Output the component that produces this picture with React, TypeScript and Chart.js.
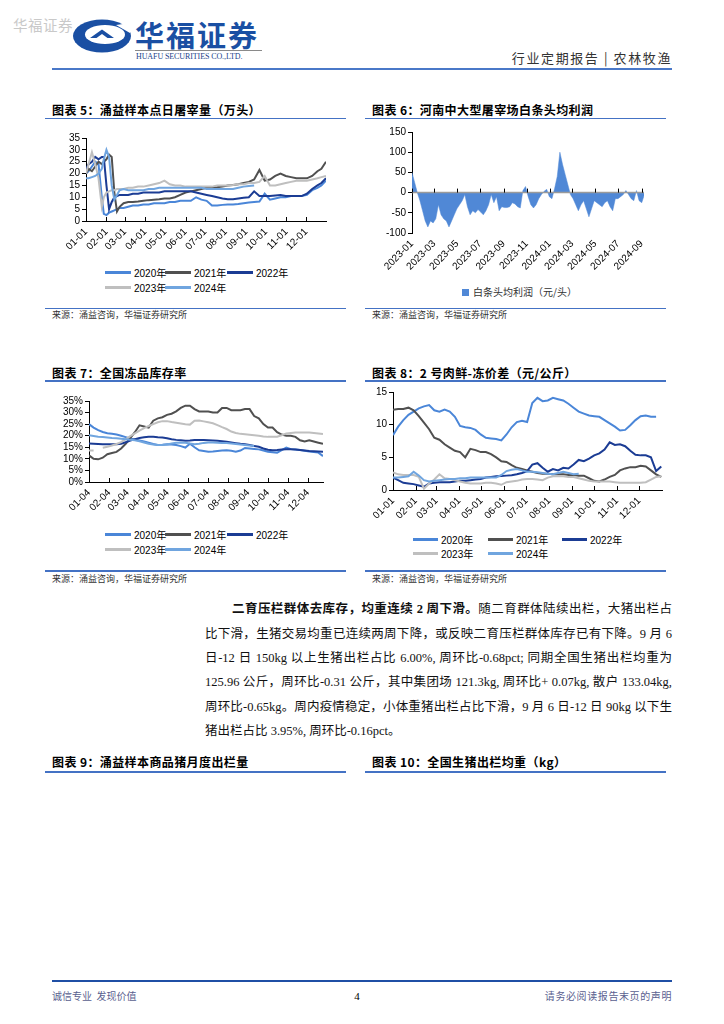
import React, { useEffect, useRef } from 'react';
import { Chart, registerables } from 'chart.js';

Chart.register(...registerables);
Chart.defaults.font.family = '"Liberation Sans", Arial, sans-serif';
Chart.defaults.font.size = 10;
Chart.defaults.color = '#000';

// ---------- colours ----------
const C2020 = '#4A86D8';
const C2021 = '#505050';
const C2022 = '#1B3C94';
const C2023 = '#BFBFBF';
const C2024 = '#70A5DF';
const FILL6 = '#5088D6';

const YEARS = ['2020年', '2021年', '2022年', '2023年', '2024年'];

// ---------- Chart 5: daily slaughter (万头) ----------
const MONTH_START_DOY = [1, 32, 60, 91, 121, 152, 182, 213, 244, 274, 305, 335];
const MONTH_LABELS_01 = ['01-01', '02-01', '03-01', '04-01', '05-01', '06-01', '07-01', '08-01', '09-01', '10-01', '11-01', '12-01'];
const Y5_TICKS = [0, 5, 10, 15, 20, 25, 30, 35];
const DAYS5 = [1, 5, 10, 15, 20, 25, 28, 32, 36, 40, 44, 48, 52, 58, 65, 72, 80, 88, 96, 104, 112, 120, 128, 136, 144, 152, 160, 168, 176, 184, 192, 200, 208, 216, 224, 232, 240, 248, 256, 264, 272, 280, 288, 296, 304, 312, 320, 328, 336, 344, 352, 358, 365];
const S5_2020 = [20, 21, 23, 25, 24, 10, 3, 2.5, 3.5, 4, 4.5, 5, 5.5, 5.5, 6, 6.5, 6.5, 7, 7, 7.5, 7.5, 7.5, 8, 8, 8.5, 8.5, 8.5, 10, 9, 8.5, 6.5, 6.5, 6.8, 7, 7, 7.2, 7.5, 7.8, 8, 8.2, 11.5, 9, 9.5, 10, 10, 10.5, 10.5, 10.5, 11, 13, 14, 15, 17];
const S5_2021 = [20, 22, 21, 23, 25, 24, 25, 26, 28, 27, 12, 4, 6, 7.5, 8, 8, 8.2, 8.5, 8.8, 9, 9.2, 9.5, 9.5, 10, 11, 12, 12.5, 13, 13.5, 14, 14, 14.2, 14.5, 15, 15.2, 15.5, 16, 16.5, 17.5, 21.5, 17, 17.5, 19, 20, 19, 18.5, 18, 18, 18, 19, 21, 22, 25];
const S5_2022 = [22, 24, 25, 27, 26, 27, 27, 15, 5, 8, 10, 10.5, 11, 11, 11, 11.5, 11.5, 12, 12, 12, 12, 12.5, 12.5, 12.5, 12.5, 12.5, 12.5, 12, 11.5, 11, 10.5, 10, 9.5, 9.2, 9.2, 9.5, 9.8, 10, 12.5, 10.5, 10.5, 10.5, 10.8, 11, 10.5, 10.5, 10.5, 10.5, 11.5, 13.5, 15, 16, 18];
const S5_2023 = [20, 24, 29, 24, 18, 6, 10, 12, 12.5, 13, 13, 13.5, 13.5, 13.5, 14, 14, 14.5, 14.5, 15, 15.5, 16, 17, 15.5, 15, 15, 14.5, 14.5, 14.5, 14.5, 14.5, 14.5, 15, 15, 15, 15.2, 15.5, 15.5, 16, 16, 16.5, 19, 15, 15, 15.5, 16, 16.5, 17, 17, 17, 17.5, 18, 18.5, 19];
const S5_2024 = [18, 18, 18.5, 19, 20, 22, 26, 30, 27, 15, 9, 11, 13, 13.5, 13, 13, 13, 13, 13.5, 13.5, 14, 14, 14, 14, 14, 14, 14, 14, 14, 13.5, 13.5, 13.5, 13.5, 13.5, 13.5, 14, 14.5, 14.8, 15, null, null, null, null, null, null, null, null, null, null, null, null, null, null];

// ---------- Chart 6: Henan slaughterhouse profit (元/头), weekly from 2023-01-01 ----------
const TICKS6 = [0, 59, 120, 181, 243, 304, 365, 425, 486, 547, 609];
const LABELS6 = ['2023-01', '2023-03', '2023-05', '2023-07', '2023-09', '2023-11', '2024-01', '2024-03', '2024-05', '2024-07', '2024-09'];
const Y6_TICKS = [-100, -50, 0, 50, 100, 150];
const PROFIT6 = [50, 25, 0, -20, -45, -70, -85, -70, -75, -65, -30, -55, -65, -70, -85, -70, -55, -40, -30, -20, -5, -35, -55, -45, -50, -42, -48, -55, -45, -30, -5, -25, -10, -45, -35, -37, -37, -35, -25, -28, -35, -38, 5, 15, -10, -30, -38, -30, -15, -5, 3, 8, -10, -15, 10, 40, 100, 70, 45, 20, -5, -15, -30, -45, -30, -20, -40, -60, -40, -20, -25, -30, -35, -25, -20, -35, -45, -15, -15, -10, -5, 5, -5, -15, -20, 5, -20, -25, -5];

// ---------- Chart 7: frozen stock rate (%), weekly from 01-04 ----------
const TICKS7 = [0, 31, 59, 90, 120, 151, 181, 212, 243, 273, 304, 334];
const LABELS7 = ['01-04', '02-04', '03-04', '04-04', '05-04', '06-04', '07-04', '08-04', '09-04', '10-04', '11-04', '12-04'];
const Y7_TICKS = [0, 5, 10, 15, 20, 25, 30, 35];
const S7_2020 = [25, 23.5, 22.4, 21.6, 21.1, 20.8, 20.5, 20, 19.4, 18.8, 18.3, 17.9, 17.5, 17, 16.4, 16, 16.1, 16.3, 16.2, 16, 15.5, 14.9, 16.5, 15, 13.7, 13.4, 13.1, 13.2, 13.4, 13.6, 13.7, 13.5, 13.1, 13.6, 14.7, 14.5, 14.3, 14.1, 13.6, 13.1, 12.9, 12.7, 13.8, 14.9, 14.2, 14, 13.8, 13.5, 13.2, 13, 12.7, 11.2];
const S7_2021 = [11.5, 10, 9.8, 10.5, 12, 12.5, 13, 14.5, 16.5, 19, 21.5, 24.5, 24, 23.5, 26.5, 27.5, 28, 29, 29.5, 30.5, 32, 33, 33, 31.5, 30.5, 30.5, 30.5, 30, 30, 32, 32, 31, 31, 31, 31.5, 31.5, 28.5, 27.5, 25, 23.5, 23.5, 21.5, 20.5, 20, 20, 19.5, 18, 17.5, 18, 17.5, 17, 16.5];
const S7_2022 = [16.6, 16.5, 16.4, 16.3, 16.3, 16.3, 16.3, 16.5, 17.2, 17.9, 18.5, 19, 19.3, 19.5, 19.5, 19.3, 19.2, 18.9, 18.5, 18.2, 18, 17.8, 17.9, 18.1, 18.1, 18.1, 18, 17.9, 17.8, 17.6, 17.4, 17.1, 16.8, 16.5, 16.3, 16, 15.6, 15.2, 14.5, 13.9, 13.7, 13.8, 14, 14.1, 14.1, 14, 13.8, 13.6, 13.4, 13.3, 13.2, 13.1];
const S7_2023 = [13.6, 13.6, null, 14.8, 15.2, 15.8, 16.4, 17.2, 18.5, 19.8, 21, 22.2, 23.3, 24.2, 25, 25.8, 26.3, 26.3, 25.9, 25.6, 25.3, 25, 24.8, 26.5, 26.6, 26.2, 25.8, 25.4, 24.6, 23.7, 22.9, 21.8, 21.2, 20.8, 20.6, 20.4, 20.2, 20, 19.7, 19.5, 19.5, 19.6, 20.2, 21, 21.2, 21.4, 21.4, 21.4, 21.4, 21.2, 21, 20.7];
const S7_2024 = [20.2, 19.9, 19.6, 19.4, 19.2, 19, 18.9, 18.7, 18.5, 18.3, 18, 17.6, 17.1, 16.5, 16.2, 16, 16, 16.2, 16.6, 17, 17.1, 17, 16.6, 16.3, 16.5, 16.9, 17.1, 17.1, 17, 16.9, 16.8, 16.6, 16.4, 16.2, 16, 15.8, 15.6, null, null, null, null, null, null, null, null, null, null, null, null, null, null, null];

// ---------- Chart 8: fresh-frozen price spread (元/公斤), weekly from 01-01 ----------
const TICKS8 = [0, 31, 59, 90, 120, 151, 181, 212, 243, 273, 304, 334];
const Y8_TICKS = [0, 5, 10, 15];
const S8_2020 = [8.4, 9.7, 10.7, 11.5, 12, 12.5, 12.8, 13, 12.2, 12, 12.3, 12, 11.2, 9.8, 9.6, 9.5, 9.2, 8.5, 8, 7.9, 7.8, 7.6, 8.5, 9.6, 10.4, 10.6, 10.4, 13.3, 14.1, 13.6, 13.7, 14.1, 13.9, 13.7, 13.2, 12.6, 12, 11.7, 11.4, 11.3, 11.2, 10.7, 10.2, 9.7, 9.1, 9.2, 9.9, 10.7, 11.3, 11.4, 11.2, 11.2, null];
const S8_2021 = [12.3, 12.4, 12.4, 12.6, 12.2, 11.3, 10.3, 9.3, 8, 7.7, 7, 6.5, 6, 5.8, 5, 6.3, 6.1, 5.8, 5.8, 5.5, 5, 4.4, 4.3, 3.8, 3.4, 3.2, 3, 2.8, 2.6, 2.5, 2.5, 2.4, 2.4, 2.4, 2.3, 2.3, 2.2, 2.2, 1.8, 1.4, 1.3, 1.6, 2, 2.3, 3, 3.3, 3.5, 3.5, 3.7, 3.6, 3, 2.4, 2];
const S8_2022 = [1.9, 1.5, 1.1, 1, 0.9, 0.7, 0.5, 1, 1.1, 1.2, 1.2, 1.2, 1.3, 1.4, 1.4, 1.5, 1.6, 1.7, 1.9, 2, 2.1, 2.15, 2.2, 2.25, 2.4, 2.6, 2.9, 3.9, 4.1, 3.4, 2.8, 3.2, 3, 3.4, 3.3, 3.9, 4.6, 4.4, 4.8, 5.3, 5.6, 6.2, 7.3, 6.9, 7, 6.7, 6, 5.4, 5.3, 5.3, 5, 2.9, 3.6];
const S8_2023 = [2.7, 2.4, 2.3, 2.3, 2.3, 2, 0.2, 1, 1.6, 2.4, 1.8, 1.7, 1.5, 1.3, 1.1, 1, 1, 1, 1.1, 1.1, 1, 0.8, 1.2, 1.3, 1.4, 1.6, 1.7, 1.7, 1.6, 1.5, 1.9, 2.1, 2.1, 2.1, 2, 2, 1.8, 1.6, 1.4, 1.3, 1.3, 1.3, 1.3, 1.2, 1.1, 1.1, 1.1, 1.1, 1.1, 1.2, 1.6, 2, 2.1];
const S8_2024 = [1.9, 1.9, 2, 2.1, 2.8, 2.2, 1.5, 1.3, 1.4, 1.5, 1.6, 1.7, 1.7, 1.8, 1.8, 1.9, 1.9, 1.9, 1.9, 1.9, 1.9, 2.3, 2.9, 3.1, 3.2, 3, 2.8, 2.8, 2.7, 2.6, 2.5, 2.4, 2.6, 2.8, 2.6, 2.4, 2.5, null, null, null, null, null, null, null, null, null, null, null, null, null, null, null, null];

// ---------- text ----------
const CJK = '"Noto Sans CJK SC", "Liberation Sans", sans-serif';
const SERIF = '"Liberation Serif", "Noto Sans CJK SC", serif';
const SOURCE = '来源：涌益咨询，华福证券研究所';

// ---------- helpers ----------
const weekly = (vals: (number | null)[]) => vals.map((y, i) => ({ x: i * 7, y }));
const onGrid = (xs: number[], vals: (number | null)[]) => vals.map((y, i) => ({ x: xs[i], y }));

const innerTicks = {
  id: 'innerTicks',
  afterDatasetsDraw(chart: any, _args: any, opts: any) {
    const xs = chart.scales.x;
    const ys = chart.scales.y;
    const ctx = chart.ctx;
    const area = chart.chartArea;
    const y0 = opts.zero ? ys.getPixelForValue(0) : area.bottom;
    ctx.save();
    if (opts.zeroLine) {
      ctx.strokeStyle = opts.zeroLine;
      ctx.lineWidth = 1.5;
      ctx.beginPath();
      ctx.moveTo(area.left, y0);
      ctx.lineTo(area.right, y0);
      ctx.stroke();
    }
    ctx.strokeStyle = '#000';
    ctx.lineWidth = 1;
    for (const t of xs.ticks) {
      const px = Math.round(xs.getPixelForValue(t.value)) + 0.5;
      ctx.beginPath();
      ctx.moveTo(px, y0);
      ctx.lineTo(px, y0 - 4);
      ctx.stroke();
    }
    ctx.restore();
  },
};

function lineDs(label: string, data: any[], color: string, order: number) {
  return { label, data, borderColor: color, backgroundColor: color, borderWidth: 2, pointRadius: 0, tension: 0, order, spanGaps: false };
}

function xAxis(min: number, max: number, ticks: number[], labels: string[], height: number, border = true) {
  return {
    type: 'linear',
    min,
    max,
    afterBuildTicks: (s: any) => { s.ticks = ticks.map((v) => ({ value: v })); },
    afterFit: (s: any) => { s.height = height; },
    ticks: { autoSkip: false, minRotation: 45, maxRotation: 45, padding: 5, color: '#000', font: { size: 10 }, callback: (_v: any, i: number) => labels[i] },
    grid: { display: true, drawOnChartArea: false, drawTicks: false },
    border: { display: border, color: '#000', width: 1 },
  };
}

function yAxis(ticks: number[], width: number, fmt: (v: number) => string) {
  return {
    type: 'linear',
    min: ticks[0],
    max: ticks[ticks.length - 1],
    afterBuildTicks: (s: any) => { s.ticks = ticks.map((v) => ({ value: v })); },
    afterFit: (s: any) => { s.width = width; },
    ticks: { autoSkip: false, padding: 2, color: '#000', font: { size: 10 }, callback: (v: any) => fmt(Number(v)) },
    grid: { display: true, drawOnChartArea: false, drawTicks: true, tickLength: 4, color: '#000' },
    border: { display: true, color: '#000', width: 1 },
  };
}

function baseOptions(scales: any, padding: any, tickOpts: any) {
  return {
    animation: false,
    responsive: true,
    maintainAspectRatio: false,
    layout: { padding },
    plugins: { legend: { display: false }, tooltip: { enabled: false }, innerTicks: tickOpts },
    scales,
  };
}

const chart5Config = () => ({
  type: 'line',
  data: {
    datasets: [
      lineDs(YEARS[0], onGrid(DAYS5, S5_2020), C2020, 5),
      lineDs(YEARS[1], onGrid(DAYS5, S5_2021), C2021, 4),
      lineDs(YEARS[2], onGrid(DAYS5, S5_2022), C2022, 3),
      lineDs(YEARS[3], onGrid(DAYS5, S5_2023), C2023, 2),
      lineDs(YEARS[4], onGrid(DAYS5, S5_2024), C2024, 1),
    ],
  },
  options: baseOptions(
    { x: xAxis(1, 365, MONTH_START_DOY, MONTH_LABELS_01, 37), y: yAxis(Y5_TICKS, 41, (v) => String(v)) },
    { top: 12, right: 20, left: 0, bottom: 0 },
    { zero: false }
  ),
  plugins: [innerTicks],
});

const chart6Config = () => ({
  type: 'line',
  data: {
    datasets: [
      {
        label: '白条头均利润（元/头）',
        data: weekly(PROFIT6),
        borderColor: FILL6,
        backgroundColor: FILL6,
        borderWidth: 0.5,
        pointRadius: 0,
        tension: 0,
        fill: 'origin',
      },
    ],
  },
  options: baseOptions(
    { x: xAxis(0, 615, TICKS6, LABELS6, 47, false), y: yAxis(Y6_TICKS, 52, (v) => String(v)) },
    { top: 12, right: 22, left: 0, bottom: 0 },
    { zero: true, zeroLine: '#9a9a9a' }
  ),
  plugins: [innerTicks],
});

const chart7Config = () => ({
  type: 'line',
  data: {
    datasets: [
      lineDs(YEARS[0], weekly(S7_2020), C2020, 5),
      lineDs(YEARS[1], weekly(S7_2021), C2021, 4),
      lineDs(YEARS[2], weekly(S7_2022), C2022, 3),
      lineDs(YEARS[3], weekly(S7_2023), C2023, 2),
      lineDs(YEARS[4], weekly(S7_2024), C2024, 1),
    ],
  },
  options: baseOptions(
    { x: xAxis(0, 357, TICKS7, LABELS7, 38), y: yAxis(Y7_TICKS, 44, (v) => v + '%') },
    { top: 11, right: 23, left: 0, bottom: 0 },
    { zero: false }
  ),
  plugins: [innerTicks],
});

const chart8Config = () => ({
  type: 'line',
  data: {
    datasets: [
      lineDs(YEARS[0], weekly(S8_2020), C2020, 5),
      lineDs(YEARS[1], weekly(S8_2021), C2021, 4),
      lineDs(YEARS[2], weekly(S8_2022), C2022, 3),
      lineDs(YEARS[3], weekly(S8_2023), C2023, 2),
      lineDs(YEARS[4], weekly(S8_2024), C2024, 1),
    ],
  },
  options: baseOptions(
    { x: xAxis(0, 365, TICKS8, MONTH_LABELS_01, 40), y: yAxis(Y8_TICKS, 33, (v) => String(v)) },
    { top: 12, right: 4, left: 0, bottom: 0 },
    { zero: false }
  ),
  plugins: [innerTicks],
});

// ---------- components ----------
function ChartBox({ left, top, width, height, make }: { left: number; top: number; width: number; height: number; make: () => any }) {
  const ref = useRef<HTMLCanvasElement>(null);
  useEffect(() => {
    const chart = new Chart(ref.current as HTMLCanvasElement, make());
    return () => chart.destroy();
  }, []);
  return (
    <div style={{ position: 'absolute', left, top, width, height }}>
      <canvas ref={ref} />
    </div>
  );
}

const abs = (left: number, top: number, extra: any = {}) => ({ position: 'absolute' as const, left, top, ...extra });

function HLine({ x1, x2, y, color, h }: { x1: number; x2: number; y: number; color: string; h: number }) {
  return <div style={abs(x1, y - h / 2, { width: x2 - x1, height: h, background: color })} />;
}

function Title({ x, y, text }: { x: number; y: number; text: string }) {
  return (
    <div style={abs(x, y - 9, { height: 18, lineHeight: '18px', fontSize: 12, fontWeight: 700, letterSpacing: 0.4, fontFamily: CJK, whiteSpace: 'nowrap', color: '#000' })}>
      {text}
    </div>
  );
}

function Source({ x, y }: { x: number; y: number }) {
  return (
    <div style={abs(x, y - 7, { height: 14, lineHeight: '14px', fontSize: 9, fontFamily: CJK, whiteSpace: 'nowrap', color: '#333' })}>{SOURCE}</div>
  );
}

function LegendItem({ x, y, color, label, sw }: { x: number; y: number; color: string; label: string; sw: number }) {
  return (
    <div style={abs(x, y - 7, { height: 14, display: 'flex', alignItems: 'center', whiteSpace: 'nowrap' })}>
      <div style={{ width: sw, height: 3, background: color }} />
      <div style={{ marginLeft: 3, fontSize: 10, fontFamily: '"Liberation Sans", "Noto Sans CJK SC", sans-serif', color: '#000' }}>{label}</div>
    </div>
  );
}

function YearLegend({ xs, ys, sw }: { xs: number[]; ys: number[]; sw: number }) {
  const cols = [C2020, C2021, C2022, C2023, C2024];
  return (
    <>
      {YEARS.map((lab, i) => (
        <LegendItem key={lab} x={xs[i % 3]} y={ys[i < 3 ? 0 : 1]} color={cols[i]} label={lab} sw={sw} />
      ))}
    </>
  );
}

const PARA_LINES: { text: string; bold?: string; indent?: boolean; last?: boolean }[] = [
  { bold: '二育压栏群体去库存，均重连续 2 周下滑。', text: '随二育群体陆续出栏，大猪出栏占', indent: true },
  { text: '比下滑，生猪交易均重已连续两周下降，或反映二育压栏群体库存已有下降。9 月 6' },
  { text: '日-12 日 150kg 以上生猪出栏占比 6.00%, 周环比-0.68pct; 同期全国生猪出栏均重为' },
  { text: '125.96 公斤，周环比-0.31 公斤，其中集团场 121.3kg, 周环比+ 0.07kg, 散户 133.04kg,' },
  { text: '周环比-0.65kg。周内疫情稳定，小体重猪出栏占比下滑，9 月 6 日-12 日 90kg 以下生' },
  { text: '猪出栏占比 3.95%, 周环比-0.16pct。', last: true },
];
const PARA_Y = [609, 633.5, 658, 682, 706.5, 731];

function Logo() {
  return (
    <svg style={abs(72, 19)} width={60} height={34} viewBox="0 0 60 34">
      <ellipse cx={30} cy={17} rx={29} ry={16.5} fill="#1a4fa3" />
      <ellipse cx={33} cy={15.5} rx={20} ry={9.5} fill="#fff" />
      <path d="M44 6 L58 4 L58 14 Z" fill="#fff" />
      <path d="M18 19 L30 10.5 L42 19 L35.5 19 L30 15 L24.5 19 Z" fill="#1a4fa3" />
    </svg>
  );
}

export default function App() {
  return (
    <div style={abs(0, 0, { width: 724, height: 1024, background: '#fff', overflow: 'hidden', fontFamily: CJK, color: '#000' })}>
      {/* header */}
      <div style={abs(13, 16, { fontSize: 14.5, lineHeight: '18px', color: '#c9c9c9', fontFamily: CJK, letterSpacing: 0.5 })}>华福证券</div>
      <Logo />
      <div style={abs(135, 17, { fontSize: 29, lineHeight: '34px', fontWeight: 700, color: '#1a4fa3', fontFamily: CJK, letterSpacing: 2, whiteSpace: 'nowrap' })}>华福证券</div>
      <HLine x1={135} x2={262} y={50.5} color="#8a8a8a" h={1} />
      <div style={abs(136, 52, { fontSize: 8, lineHeight: '10px', color: '#1a3f8a', fontFamily: SERIF, whiteSpace: 'nowrap', letterSpacing: -0.1 })}>HUAFU SECURITIES CO.,LTD.</div>
      <div style={abs(472, 49, { width: 200, textAlign: 'right', fontSize: 13, lineHeight: '18px', letterSpacing: 1.6, color: '#333', fontFamily: CJK, whiteSpace: 'nowrap' })}>行业定期报告 | 农林牧渔</div>
      <HLine x1={52} x2={672} y={68.5} color="#4a78c8" h={2} />

      {/* chart 5 */}
      <Title x={52} y={110} text="图表 5：涌益样本点日屠宰量（万头）" />
      <HLine x1={45} x2={346} y={118.5} color="#4472C4" h={1.3} />
      <ChartBox left={45} top={126} width={301} height={132} make={chart5Config} />
      <YearLegend xs={[105, 165, 227]} ys={[272, 287]} sw={26} />
      <HLine x1={45} x2={346} y={308.5} color="#4472C4" h={1.3} />
      <Source x={52} y={315} />

      {/* chart 6 */}
      <Title x={372} y={110} text="图表 6：河南中大型屠宰场白条头均利润" />
      <HLine x1={365} x2={666} y={118.5} color="#4472C4" h={1.3} />
      <ChartBox left={360} top={120} width={306} height={160} make={chart6Config} />
      <div style={abs(462, 288.5, { width: 7, height: 7, background: FILL6 })} />
      <div style={abs(473, 285, { fontSize: 10, lineHeight: '14px', color: '#333', fontFamily: CJK, whiteSpace: 'nowrap' })}>白条头均利润（元/头）</div>
      <HLine x1={365} x2={666} y={308.5} color="#4472C4" h={1.3} />
      <Source x={372} y={315} />

      {/* chart 7 */}
      <Title x={52} y={373} text="图表 7：全国冻品库存率" />
      <HLine x1={45} x2={346} y={381} color="#4472C4" h={1.3} />
      <ChartBox left={45} top={390} width={301} height={130} make={chart7Config} />
      <YearLegend xs={[105, 165, 227]} ys={[534, 549]} sw={26} />
      <HLine x1={45} x2={346} y={571} color="#4472C4" h={1.3} />
      <Source x={52} y={579} />

      {/* chart 8 */}
      <Title x={372} y={373} text="图表 8：2 号肉鲜-冻价差（元/公斤）" />
      <HLine x1={365} x2={666} y={381} color="#4472C4" h={1.3} />
      <ChartBox left={360} top={380} width={306} height={150} make={chart8Config} />
      <YearLegend xs={[413, 488, 562]} ys={[539, 553]} sw={25} />
      <HLine x1={365} x2={666} y={571} color="#4472C4" h={1.3} />
      <Source x={372} y={579} />

      {/* paragraph */}
      {PARA_LINES.map((ln, i) => (
        <div
          key={i}
          style={abs(205, PARA_Y[i] - 10, {
            width: 467,
            height: 20,
            lineHeight: '20px',
            fontSize: 12.5,
            fontFamily: SERIF,
            color: '#111',
            whiteSpace: 'nowrap',
            textAlign: ln.last ? 'left' : 'justify',
            textAlignLast: ln.last ? 'left' : 'justify',
            textIndent: ln.indent ? 27 : 0,
          })}
        >
          {ln.bold ? <span style={{ fontWeight: 700 }}>{ln.bold}</span> : null}
          {ln.text}
        </div>
      ))}

      {/* chart 9 / 10 titles */}
      <Title x={52} y={762} text="图表 9：涌益样本商品猪月度出栏量" />
      <HLine x1={45} x2={346} y={772} color="#4472C4" h={1.3} />
      <Title x={372} y={762} text="图表 10：全国生猪出栏均重（kg）" />
      <HLine x1={365} x2={666} y={772} color="#4472C4" h={1.3} />

      {/* footer */}
      <HLine x1={52} x2={672} y={981} color="#1f4fa5" h={2} />
      <div style={abs(52, 989, { fontSize: 10, lineHeight: '14px', color: '#5a5f8f', fontFamily: CJK, whiteSpace: 'pre' })}>诚信专业  发现价值</div>
      <div style={abs(352, 988, { width: 10, textAlign: 'center', fontSize: 11, lineHeight: '16px', color: '#000', fontFamily: SERIF })}>4</div>
      <div style={abs(472, 989, { width: 200, textAlign: 'right', fontSize: 10, lineHeight: '14px', color: '#5a5f8f', fontFamily: CJK, whiteSpace: 'nowrap', letterSpacing: 0.6 })}>请务必阅读报告末页的声明</div>
    </div>
  );
}
